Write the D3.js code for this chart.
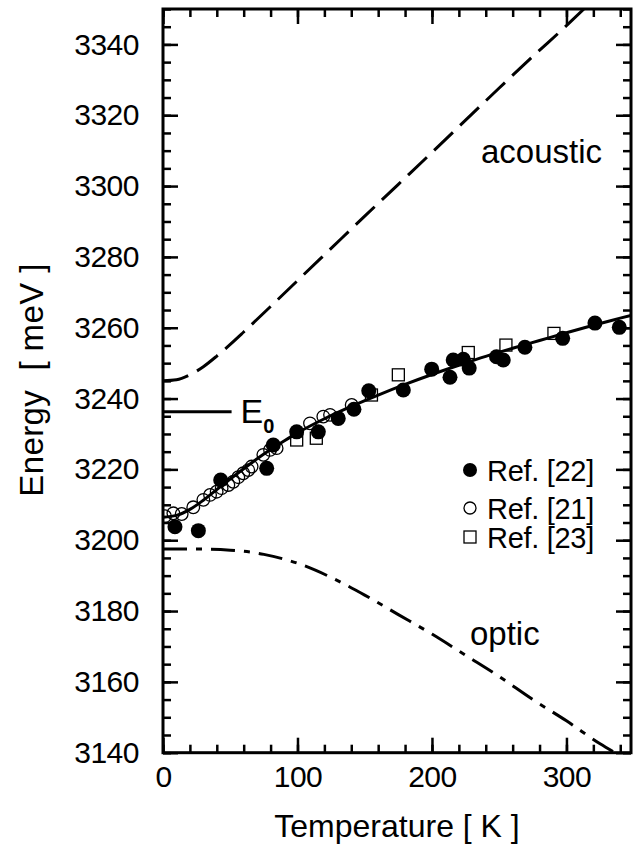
<!DOCTYPE html>
<html>
<head>
<meta charset="utf-8">
<script src="https://cdn.jsdelivr.net/npm/d3@7"></script>
<style>
  body { margin: 0; background: #fff; }
  text { font-family: "Liberation Sans", Arial, Helvetica, sans-serif; fill: #000; }
</style>
</head>
<body>
<svg id="chart"></svg>
<script>
// data: [temperature K, energy meV]
const ref22 = [[8.9,3203.8],[26.3,3202.7],[42.9,3217.0],[77.1,3220.3],[82,3226.9],[99.4,3230.6],
  [115.5,3230.6],[130.3,3234.4],[142,3237],[153,3242.2],[178.7,3242.4],[199.8,3248.3],[213.4,3246.0],
  [215.8,3250.9],[223.3,3251.1],[227.7,3248.6],[248,3251.8],[253,3250.9],[269.1,3254.5],[297.2,3257.0],
  [321.2,3261.3],[339.3,3260.1]]
const ref21 = [[1.5,3206.8],[7.7,3207.6],[13.9,3207.4],[22.5,3209.3],[30,3211.4],[35,3212.8],[39.9,3213.7],
  [43.6,3214.7],[48.6,3215.6],[52.3,3216.5],[56,3217.8],[59.7,3218.9],[63.4,3219.8],[65.9,3220.8],
  [74.6,3224.1],[79.6,3225.5],[84.5,3226],[109.3,3233],[119.2,3234.9],[124.2,3235.4],[140.3,3238.2]]
const ref23 = [[99.4,3228.3],[114,3228.8],[155,3241],[175,3246.7],[227,3253],[255,3255.1],[290.7,3258.4]]

// fitted curve and the two phonon branches
const fitCurve = [[0,3206.5],[10,3207],[20,3208.7],[30,3211.3],[40,3214.3],[50,3217.3],[60,3220.2],[70,3223],
  [80,3225.6],[90,3228],[100,3230.3],[120,3234.3],[140,3237.8],[160,3241],[180,3244],[200,3246.8],
  [220,3249.4],[240,3251.9],[260,3254.2],[280,3256.4],[300,3258.6],[320,3260.7],[340,3262.7],[348,3263.5]]
const acoustic = [[0,3245],[10,3245.3],[20,3246.7],[30,3249],[40,3252],[50,3255.3],[60,3258.8],[80,3266],
  [100,3273.3],[125,3282.4],[150,3291.5],[175,3300.5],[200,3309.5],[225,3318.6],[250,3327.7],
  [275,3336.6],[300,3345.3],[313,3350]]
const optic = [[0,3197.5],[25,3197.5],[50,3197.2],[75,3196],[100,3193.5],[125,3189.5],[150,3184.5],
  [175,3179],[200,3173.5],[225,3167.5],[250,3161.5],[275,3155],[300,3149],[325,3142.5],[336,3140]]
const e0 = 3236.3
const e0End = 51

const xMajor = [0, 100, 200, 300]
const yMajor = [3140, 3160, 3180, 3200, 3220, 3240, 3260, 3280, 3300, 3320, 3340]

const legendItems = [
  {label: "Ref. [22]", kind: "filled"},
  {label: "Ref. [21]", kind: "open"},
  {label: "Ref. [23]", kind: "square"}
]

// constants
const width = 634
const height = 846
const plotLeft = 163, plotRight = 631, plotTop = 9, plotBottom = 752.7

const svg = d3.select('svg#chart').attr('width', width).attr('height', height)

const x = d3.scaleLinear().domain([0, 348]).range([plotLeft, plotRight])
const y = d3.scaleLinear().domain([3140, 3350]).range([plotBottom, plotTop])

const xMinor = d3.range(0, 348, 20)
const yMinor = d3.range(3140, 3351, 5)

// ticks point inwards on all four sides
function styleAxis(g) {
  g.select('.domain').remove()
  g.selectAll('.tick line').attr('stroke', '#000').attr('stroke-width', 2.5)
  g.selectAll('.tick text').attr('font-size', 30).attr('letter-spacing', -0.5).attr('fill', '#000')
}

svg.append('g').attr('transform', 'translate(0,' + plotBottom + ')')
  .call(d3.axisBottom(x).tickValues(xMinor).tickSize(-8).tickFormat(''))
  .call(styleAxis)
svg.append('g').attr('transform', 'translate(0,' + plotBottom + ')')
  .call(d3.axisBottom(x).tickValues(xMajor).tickSize(-15).tickPadding(13).tickFormat(d3.format('d')))
  .call(styleAxis)
svg.append('g').attr('transform', 'translate(0,' + plotTop + ')')
  .call(d3.axisTop(x).tickValues(xMinor).tickSize(-8).tickFormat(''))
  .call(styleAxis)
svg.append('g').attr('transform', 'translate(0,' + plotTop + ')')
  .call(d3.axisTop(x).tickValues(xMajor).tickSize(-15).tickFormat(''))
  .call(styleAxis)

svg.append('g').attr('transform', 'translate(' + plotLeft + ',0)')
  .call(d3.axisLeft(y).tickValues(yMinor).tickSize(-8).tickFormat(''))
  .call(styleAxis)
svg.append('g').attr('transform', 'translate(' + plotLeft + ',0)')
  .call(d3.axisLeft(y).tickValues(yMajor).tickSize(-15).tickPadding(24).tickFormat(d3.format('d')))
  .call(styleAxis)
svg.append('g').attr('transform', 'translate(' + plotRight + ',0)')
  .call(d3.axisRight(y).tickValues(yMinor).tickSize(-8).tickFormat(''))
  .call(styleAxis)
svg.append('g').attr('transform', 'translate(' + plotRight + ',0)')
  .call(d3.axisRight(y).tickValues(yMajor).tickSize(-15).tickFormat(''))
  .call(styleAxis)

// frame
svg.append('rect')
  .attr('x', plotLeft).attr('y', plotTop)
  .attr('width', plotRight - plotLeft).attr('height', plotBottom - plotTop)
  .attr('fill', 'none').attr('stroke', '#000').attr('stroke-width', 3)

svg.append('clipPath').attr('id', 'clip').append('rect')
  .attr('x', plotLeft).attr('y', plotTop).attr('width', plotRight - plotLeft).attr('height', plotBottom - plotTop)
const plot = svg.append('g').attr('clip-path', 'url(#clip)')

const line = d3.line().x(d => x(d[0])).y(d => y(d[1])).curve(d3.curveMonotoneX)

plot.append('path').datum(acoustic).attr('d', line)
  .attr('fill', 'none').attr('stroke', '#000').attr('stroke-width', 3)
  .attr('stroke-dasharray', '26,10')
plot.append('path').datum(optic).attr('d', line)
  .attr('fill', 'none').attr('stroke', '#000').attr('stroke-width', 3)
  .attr('stroke-dasharray', '24,9,6,9')

// E0 marker
plot.append('line')
  .attr('x1', x(0)).attr('x2', x(e0End)).attr('y1', y(e0)).attr('y2', y(e0))
  .attr('stroke', '#000').attr('stroke-width', 3)
const e0Label = svg.append('text').attr('x', x(e0End) + 9).attr('y', y(e0) + 11).attr('font-size', 34)
e0Label.append('tspan').text('E')
e0Label.append('tspan').attr('dy', 10).attr('font-size', 20).attr('font-weight', 'bold').text('0')

// points
plot.append('g').selectAll('circle').data(ref21).enter().append('circle')
  .attr('cx', d => x(d[0])).attr('cy', d => y(d[1])).attr('r', 6.3)
  .attr('fill', 'none').attr('stroke', '#000').attr('stroke-width', 1.3)
plot.append('g').selectAll('rect').data(ref23).enter().append('rect')
  .attr('x', d => x(d[0]) - 6).attr('y', d => y(d[1]) - 6).attr('width', 12).attr('height', 12)
  .attr('fill', '#fff').attr('stroke', '#000').attr('stroke-width', 1.3)
plot.append('g').selectAll('circle').data(ref22).enter().append('circle')
  .attr('cx', d => x(d[0])).attr('cy', d => y(d[1])).attr('r', 7.5)
  .attr('fill', '#000')

plot.append('path').datum(fitCurve).attr('d', line)
  .attr('fill', 'none').attr('stroke', '#000').attr('stroke-width', 3)

// branch labels
svg.append('text').attr('x', 602).attr('y', 163).attr('text-anchor', 'end').attr('font-size', 33).text('acoustic')
svg.append('text').attr('x', 470).attr('y', 645).attr('font-size', 33).text('optic')

// legend
const legend = svg.append('g').attr('transform', 'translate(470,470)')
const rows = legend.selectAll('g').data(legendItems).enter().append('g')
  .attr('transform', (d, i) => 'translate(0,' + [0, 38, 67][i] + ')')
rows.each(function (d) {
  const g = d3.select(this)
  if (d.kind === 'filled') g.append('circle').attr('r', 7).attr('fill', '#000')
  if (d.kind === 'open') g.append('circle').attr('r', 6).attr('fill', 'none').attr('stroke', '#000').attr('stroke-width', 1.3)
  if (d.kind === 'square') g.append('rect').attr('x', -6).attr('y', -6).attr('width', 12).attr('height', 12)
    .attr('fill', 'none').attr('stroke', '#000').attr('stroke-width', 1.3)
})
rows.append('text').attr('x', 17).attr('y', 11).attr('font-size', 29).attr('letter-spacing', -0.3).text(d => d.label)

// axis titles
svg.append('text').attr('x', 397).attr('y', 837)
  .attr('text-anchor', 'middle').attr('font-size', 32).text('Temperature [ K ]')
svg.append('text').attr('transform', 'translate(43,' + 380 + ') rotate(-90)')
  .attr('text-anchor', 'middle').attr('font-size', 33).attr('letter-spacing', 0.4)
  .style('white-space', 'pre').text('Energy  [ meV ]')
</script>
</body>
</html>
